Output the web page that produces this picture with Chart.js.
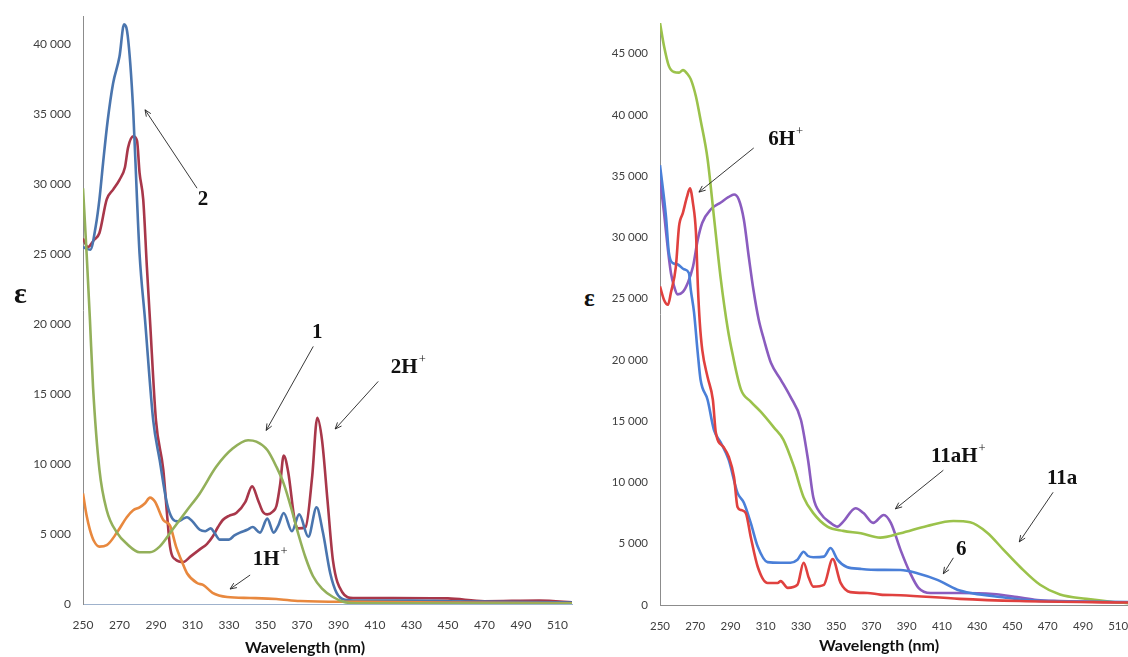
<!DOCTYPE html>
<html>
<head>
<meta charset="utf-8">
<script src="https://cdn.jsdelivr.net/npm/chart.js@4.4.1/dist/chart.umd.min.js"></script>
<style>
  html, body { margin: 0; padding: 0; background: #fff; }
  body { width: 1128px; height: 657px; position: relative; overflow: hidden; }
  canvas { position: absolute; top: 0; }
  .ytitle { position: absolute; font-family: "Liberation Serif", serif; font-weight: bold; color: #111; }
  .xtitle { position: absolute; font-family: Lato, "Liberation Sans", sans-serif; font-weight: bold; font-size: 16px; color: #111; transform: translateX(-50%); white-space: nowrap; }
</style>
</head>
<body>
<canvas id="leftChart" width="575" height="657" style="left:0"></canvas>
<canvas id="rightChart" width="528" height="657" style="left:600px"></canvas>
<div class="ytitle" style="left:14px; top:276px; font-size:30px;">ε</div>
<div class="ytitle" style="left:584px; top:284px; font-size:25px;">ε</div>
<div class="xtitle" style="left:305px; top:637px;">Wavelength (nm)</div>
<div class="xtitle" style="left:879px; top:635px;">Wavelength (nm)</div>
<script>
// ---- tick labels ----
const xTickValues = [250, 270, 290, 310, 330, 350, 370, 390, 410, 430, 450, 470, 490, 510];
const leftYTicks = [0, 5000, 10000, 15000, 20000, 25000, 30000, 35000, 40000];
const rightYTicks = [0, 5000, 10000, 15000, 20000, 25000, 30000, 35000, 40000, 45000];

// ---- left panel: compounds 1, 1H+, 2, 2H+ ----
const wl2 = [250, 254, 257, 259, 261, 263.5, 266.5, 270, 272.5, 274.5, 277.5, 279.6, 281, 284, 288.5, 292, 296, 299, 302, 305, 307, 310, 314, 317, 320, 322, 325, 330, 333, 336, 340, 343, 347, 351, 354.5, 357, 360, 364.5, 368.5, 373.5, 378, 381.5, 385.5, 389, 393.5, 400, 430, 450, 480, 520];
const eps2 = [25500, 25300, 27000, 28900, 31500, 34500, 37200, 39100, 41400, 40600, 35300, 28900, 25000, 20300, 13100, 10300, 7200, 6100, 5900, 6100, 6200, 5900, 5300, 5200, 5400, 5100, 4600, 4600, 4900, 5100, 5300, 5500, 5100, 6100, 5100, 5600, 6500, 5200, 6400, 4800, 6900, 5100, 2200, 800, 300, 250, 250, 200, 150, 100];

const wl2H = [250, 252.7, 256, 259, 263, 266.5, 270, 273, 274.7, 277.5, 279.6, 281, 283, 285, 286.7, 290, 294, 296, 297.7, 301, 305, 309, 314, 318, 321, 324, 326.6, 330, 334, 339, 342.7, 346, 348.5, 351, 354, 356, 358, 360, 362.5, 366, 368, 372, 375.6, 378.4, 381, 384, 387, 392, 398, 420, 450, 470, 500, 520];
const eps2H = [26100, 25500, 26000, 26500, 28900, 29600, 30300, 31200, 32600, 33400, 33100, 30800, 28900, 24100, 20300, 13100, 9600, 6500, 4100, 3150, 3000, 3400, 3900, 4300, 4800, 5500, 6000, 6300, 6500, 7300, 8400, 7400, 6600, 6400, 6600, 7000, 8500, 10600, 9400, 6000, 5400, 5500, 9100, 13300, 11700, 7400, 3100, 860, 430, 430, 400, 200, 250, 100];

const wl1 = [250, 252, 253.8, 255.5, 259, 263, 268.6, 274, 281, 286.7, 292, 299, 307, 314, 323, 332, 340.5, 345, 351, 356, 360, 364, 368, 372, 376, 381, 387, 393, 400, 520];
const eps1 = [29700, 25000, 20300, 15500, 9600, 6700, 5100, 4300, 3700, 3700, 4100, 5300, 6700, 7900, 9800, 11100, 11700, 11600, 11000, 9800, 8600, 6900, 5000, 3300, 2000, 1100, 500, 150, 50, 30];

const wl1H = [250, 252, 253.8, 256, 259, 263, 268.6, 274, 277.5, 281, 284, 286.7, 289.5, 294, 297.7, 301, 304, 307, 312.5, 316, 321, 329, 341.6, 356, 369, 400, 450, 520];
const eps1H = [7900, 6300, 5300, 4500, 4100, 4200, 5100, 6200, 6700, 6900, 7200, 7600, 7300, 6000, 5600, 4100, 3100, 2200, 1500, 1350, 800, 500, 430, 360, 210, 150, 100, 50];

// ---- right panel: compounds 6, 6H+, 11a, 11aH+ ----
const wl6 = [250, 253.4, 255, 257.4, 260, 263.6, 266.4, 267.5, 269.3, 271.4, 273, 277, 280.6, 284.5, 289, 294, 297.6, 301.5, 305.5, 311, 318.5, 324, 328, 331.5, 334, 337, 343, 346.8, 350.7, 356, 363.8, 373.5, 386.5, 396, 407.4, 418.7, 427.8, 443, 458, 480, 516];
const eps6 = [35900, 31700, 28800, 27900, 27800, 27400, 27100, 25700, 23900, 20600, 18400, 16750, 14300, 13250, 11850, 9150, 8350, 6700, 4750, 3500, 3450, 3450, 3700, 4350, 4000, 3900, 3950, 4650, 3700, 3100, 2950, 2870, 2860, 2600, 2050, 1250, 950, 650, 400, 300, 250];

const wl6H = [250, 252.3, 254.5, 256.2, 259, 260.8, 263, 265.3, 267, 268.7, 270.4, 271.5, 272.6, 274, 277, 280, 281.7, 286, 289, 292, 294, 296, 298.7, 301.5, 305.5, 311, 316.8, 318.5, 322.5, 328, 331.5, 334.5, 337, 343, 348, 352.5, 358, 367.7, 375, 386.5, 420, 454, 516];
const eps6H = [26000, 24900, 24500, 25500, 27600, 30900, 32000, 33300, 34000, 32800, 30400, 26000, 23000, 20800, 18600, 16750, 14050, 12900, 12100, 10450, 8000, 7750, 7500, 5550, 3100, 1800, 1800, 1950, 1400, 1650, 3450, 2200, 1500, 1650, 3750, 1800, 1050, 980, 850, 800, 500, 330, 200];

const wl11a = [250, 252.3, 255, 258, 260.8, 263, 265.8, 267.5, 270.4, 273, 277, 280.6, 284.5, 288.5, 291, 295.9, 301.5, 307, 314.6, 320, 326, 331.5, 337, 345, 354, 364, 375, 386.5, 401.6, 416.5, 426, 435.7, 445, 454.4, 465.7, 477, 492, 507, 516];
const eps11a = [47500, 45600, 44000, 43500, 43450, 43650, 43300, 42900, 41500, 39600, 36400, 31700, 26600, 22500, 20600, 17600, 16600, 15800, 14500, 13500, 11300, 8800, 7500, 6400, 6050, 5850, 5500, 5850, 6450, 6850, 6750, 5900, 4500, 3100, 1650, 850, 500, 250, 150];

const wl11aH = [250, 252.3, 254.5, 256.2, 258, 260, 263, 265.8, 268.7, 271.4, 274, 278.9, 284.5, 289, 292, 294.7, 297.6, 300.4, 303, 306, 309, 313, 318.5, 324, 330, 334, 337, 341, 346.8, 350.7, 354, 361, 365.5, 371, 377, 381, 386.5, 392, 396.7, 403.5, 420, 439, 452.7, 464, 477, 516];
const eps11aH = [34700, 32000, 29000, 27100, 26000, 25350, 25550, 26300, 27600, 29800, 31200, 32300, 32850, 33300, 33500, 33100, 31450, 28400, 25750, 23300, 21650, 19750, 18400, 17000, 15100, 11850, 8800, 7500, 6700, 6400, 6800, 7900, 7500, 6700, 7350, 6700, 4500, 2600, 1400, 980, 980, 900, 650, 410, 330, 200];

// arrow labels, given in data units (wavelength, epsilon)
const leftNotes = [
  { text: '2', sup: '', x: 315.8, y: 28900, from: [312.5, 29700], to: [284, 35300] },
  { text: '1', sup: '', x: 378.4, y: 19400, from: [376.2, 18400], to: [350.4, 12400] },
  { text: '2H', sup: '+', x: 428.3, y: 16900, from: [411.8, 15900], to: [388.2, 12500] },
  { text: '1H', sup: '+', x: 352.6, y: 3200, from: [341.6, 2070], to: [330.6, 1070] }
];
const rightNotes = [
  { text: '6H', sup: '+', x: 321.3, y: 38000, from: [303.2, 37300], to: [272.1, 33700] },
  { text: '11aH', sup: '+', x: 419.3, y: 12100, from: [410.8, 11000], to: [383.6, 7850] },
  { text: '11a', sup: '', x: 478.2, y: 10300, from: [473.1, 9200], to: [453.9, 5150] },
  { text: '6', sup: '', x: 421, y: 4500, from: [416.5, 3850], to: [410.8, 2550] }
];

function toPoints(xs, ys) {
  return xs.map((x, i) => ({ x: x, y: ys[i] }));
}

function formatThousands(v) {
  return String(v).replace(/\B(?=(\d{3})+(?!\d))/g, ' ');
}

// draws the arrows and bold serif labels
const arrowNotes = {
  id: 'arrowNotes',
  afterDatasetsDraw(chart, args, opts) {
    const ctx = chart.ctx;
    const xs = chart.scales.x, ys = chart.scales.y;
    ctx.save();
    (opts.notes || []).forEach(n => {
      const x0 = xs.getPixelForValue(n.from[0]), y0 = ys.getPixelForValue(n.from[1]);
      const x1 = xs.getPixelForValue(n.to[0]), y1 = ys.getPixelForValue(n.to[1]);
      ctx.strokeStyle = '#222';
      ctx.lineWidth = 0.9;
      ctx.beginPath();
      ctx.moveTo(x0, y0);
      ctx.lineTo(x1, y1);
      const ang = Math.atan2(y1 - y0, x1 - x0);
      const head = 7;
      ctx.moveTo(x1 - head * Math.cos(ang - 0.4), y1 - head * Math.sin(ang - 0.4));
      ctx.lineTo(x1, y1);
      ctx.lineTo(x1 - head * Math.cos(ang + 0.4), y1 - head * Math.sin(ang + 0.4));
      ctx.stroke();

      const cx = xs.getPixelForValue(n.x), cy = ys.getPixelForValue(n.y);
      ctx.fillStyle = '#111';
      ctx.textBaseline = 'middle';
      ctx.textAlign = 'left';
      ctx.font = 'bold ' + opts.size + 'px "Liberation Serif", serif';
      const w = ctx.measureText(n.text).width;
      ctx.font = (opts.size * 0.6) + 'px "Liberation Serif", serif';
      const ws = n.sup ? ctx.measureText(n.sup).width + 1 : 0;
      const left = cx - (w + ws) / 2;
      ctx.font = 'bold ' + opts.size + 'px "Liberation Serif", serif';
      ctx.fillText(n.text, left, cy);
      if (n.sup) {
        ctx.font = (opts.size * 0.6) + 'px "Liberation Serif", serif';
        ctx.fillText(n.sup, left + w + 1, cy - opts.size * 0.38);
      }
    });
    ctx.restore();
  }
};

function line(data, color) {
  return {
    data: data,
    borderColor: color,
    borderWidth: 2.6,
    pointRadius: 0,
    fill: false,
    cubicInterpolationMode: 'monotone'
  };
}

function makeOptions(cfg) {
  const tickFont = { family: 'Lato, "Liberation Sans", sans-serif', size: cfg.fontSize };
  const noEdgePadding = s => {
    s.paddingLeft = 0; s.paddingRight = 0; s.paddingTop = 0; s.paddingBottom = 0;
  };
  return {
    responsive: false,
    animation: false,
    devicePixelRatio: 1,
    layout: { padding: { top: cfg.padTop, right: cfg.padRight, left: 0, bottom: 0 } },
    plugins: {
      legend: { display: false },
      tooltip: { enabled: false },
      arrowNotes: { notes: cfg.notes, size: cfg.noteSize }
    },
    scales: {
      x: {
        type: 'linear',
        min: 250,
        max: cfg.xMax,
        grid: { display: false, drawTicks: false },
        border: { color: cfg.xAxisColor, width: 1 },
        ticks: { padding: 14, font: tickFont, color: '#404040', maxRotation: 0 },
        afterBuildTicks: s => { s.ticks = xTickValues.map(v => ({ value: v })); },
        afterFit: s => { s.height = cfg.xAxisHeight; noEdgePadding(s); }
      },
      y: {
        type: 'linear',
        min: 0,
        max: cfg.yMax,
        grid: { display: false, drawTicks: false },
        border: { color: '#8c8c8c', width: 1 },
        ticks: { padding: 12, font: tickFont, color: '#404040', callback: v => formatThousands(v) },
        afterBuildTicks: s => { s.ticks = cfg.yTicks.map(v => ({ value: v })); },
        afterFit: s => { s.width = cfg.yAxisWidth; noEdgePadding(s); }
      }
    }
  };
}

const leftChart = new Chart(document.getElementById('leftChart'), {
  type: 'line',
  data: {
    datasets: [
      line(toPoints(wl1, eps1), '#93b05a'),
      line(toPoints(wl1H, eps1H), '#e8883e'),
      line(toPoints(wl2, eps2), '#4a75ae'),
      line(toPoints(wl2H, eps2H), '#a8374a')
    ]
  },
  options: makeOptions({
    xMax: 518, yMax: 42000, yTicks: leftYTicks, fontSize: 12,
    padTop: 16, padRight: 3, xAxisHeight: 53, yAxisWidth: 83,
    xAxisColor: '#9fb2cc', notes: leftNotes, noteSize: 21
  }),
  plugins: [arrowNotes]
});

const rightChart = new Chart(document.getElementById('rightChart'), {
  type: 'line',
  data: {
    datasets: [
      line(toPoints(wl6H, eps6H), '#e0413f'),
      line(toPoints(wl6, eps6), '#4a7fd8'),
      line(toPoints(wl11a, eps11a), '#9bc24b'),
      line(toPoints(wl11aH, eps11aH), '#8a5cbf')
    ]
  },
  options: makeOptions({
    xMax: 515.6, yMax: 47500, yTicks: rightYTicks, fontSize: 11.5,
    padTop: 23, padRight: 0, xAxisHeight: 52, yAxisWidth: 60,
    xAxisColor: '#8c8c8c', notes: rightNotes, noteSize: 21
  }),
  plugins: [arrowNotes]
});
</script>
</body>
</html>
